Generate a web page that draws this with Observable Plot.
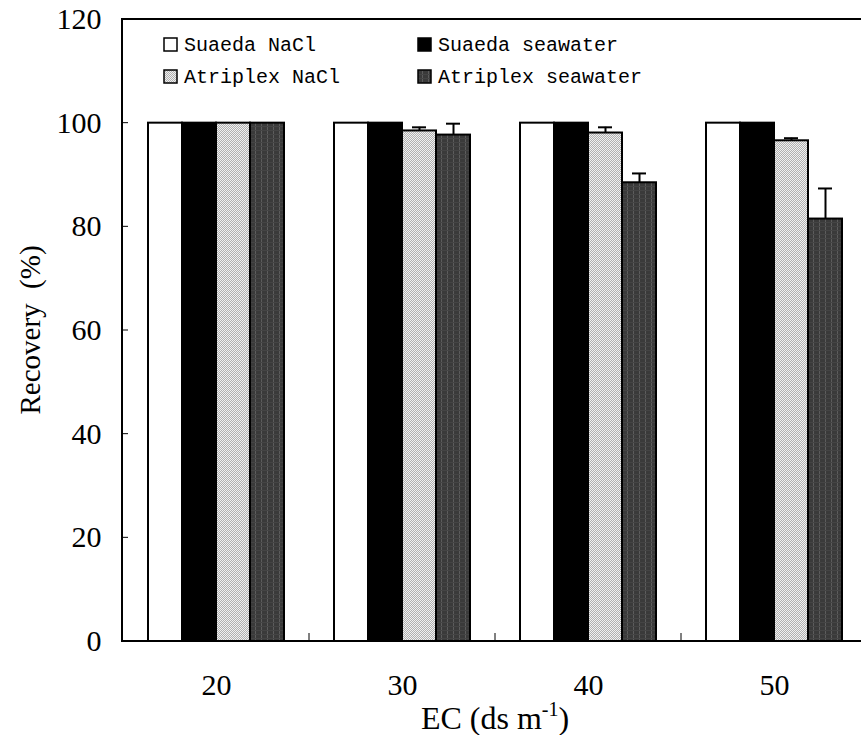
<!DOCTYPE html>
<html><head><meta charset="utf-8">
<script src="https://cdn.jsdelivr.net/npm/d3@7"></script>
<script src="https://cdn.jsdelivr.net/npm/@observablehq/plot@0.6"></script>
<style>
html,body{margin:0;padding:0;background:#fff;overflow:hidden;width:861px;height:735px}
#chart svg{max-width:none !important;display:block}
</style></head><body><div id="chart"></div>
<script>
// ---- data ----
const ecLevels = ["20", "30", "40", "50"];
const seriesNames = ["Suaeda NaCl", "Suaeda seawater", "Atriplex NaCl", "Atriplex seawater"];
const suaedaNaCl = [100, 100, 100, 100];
const suaedaSeawater = [100, 100, 100, 100];
const atriplexNaCl = [100, 98.5, 98.1, 96.6];
const atriplexSeawater = [100, 97.7, 88.5, 81.5];
const suaedaNaClErr = [0, 0, 0, 0];
const suaedaSeawaterErr = [0, 0, 0, 0];
const atriplexNaClErr = [0, 0.7, 1.1, 0.5];
const atriplexSeawaterErr = [0, 2.2, 1.8, 5.9];
const yTicks = [0, 20, 40, 60, 80, 100, 120];
const seriesFills = ["#ffffff", "#000000", "url(#patLight)", "url(#patDark)"];

const seriesValues = [suaedaNaCl, suaedaSeawater, atriplexNaCl, atriplexSeawater];
const seriesErrs = [suaedaNaClErr, suaedaSeawaterErr, atriplexNaClErr, atriplexSeawaterErr];
const rows = [];
ecLevels.forEach((ec, i) => {
  seriesNames.forEach((s, j) => {
    rows.push({ec, series: s, value: seriesValues[j][i], err: seriesErrs[j][i]});
  });
});

const chart = Plot.plot({
  width: 869, height: 735,
  marginLeft: 122, marginRight: 1, marginTop: 19, marginBottom: 94,
  style: {fontFamily: "'Liberation Serif', serif", fontSize: "30px", color: "#000", background: "#fff", maxWidth: "none", overflow: "visible"},
  facet: {data: rows, x: "ec"},
  fx: {domain: ecLevels, padding: 0, label: null, tickSize: 0, tickPadding: 32, axis: "bottom"},
  x: {domain: seriesNames, paddingInner: 0, paddingOuter: 0.68, axis: null},
  y: {domain: [0, 120], ticks: 6, tickSize: 0, tickPadding: 22, label: null},
  color: {domain: seriesNames, range: seriesFills},
  marks: [
    Plot.barY(rows, {x: "series", y: "value", fill: "series", stroke: "#000", strokeWidth: 2}),
    Plot.ruleX(rows, {filter: d => d.err > 0, x: "series", y1: "value", y2: d => d.value + d.err, stroke: "#000", strokeWidth: 2}),
    Plot.tickY(rows, {filter: d => d.err > 0, x: "series", y: d => d.value + d.err, stroke: "#000", strokeWidth: 2, insetLeft: 10, insetRight: 10})
  ]
});
document.getElementById("chart").appendChild(chart);

// ---- decorations through the plot's scales ----
const svg = d3.select(chart);
const defs = svg.insert("defs", ":first-child");
const pl = defs.append("pattern").attr("id", "patLight").attr("patternUnits", "userSpaceOnUse").attr("width", 2).attr("height", 2);
pl.append("rect").attr("width", 2).attr("height", 2).attr("fill", "#f0f0f0");
pl.append("rect").attr("width", 1).attr("height", 1).attr("fill", "#b0b0b0");
pl.append("rect").attr("x", 1).attr("y", 1).attr("width", 1).attr("height", 1).attr("fill", "#b0b0b0");
const pd = defs.append("pattern").attr("id", "patDark").attr("patternUnits", "userSpaceOnUse").attr("width", 6).attr("height", 4);
pd.append("rect").attr("width", 6).attr("height", 4).attr("fill", "#3a3a3a");
pd.append("rect").attr("x", 2).attr("width", 1).attr("height", 4).attr("fill", "#5c5c5c");
pd.append("rect").attr("y", 2).attr("width", 6).attr("height", 1).attr("fill", "#444");

const fxS = chart.scale("fx");
const yS = chart.scale("y");
const xL = fxS.range[0], xR = fxS.range[1];
const yTop = yS.apply(120), yBot = yS.apply(0);
const deco = svg.append("g").attr("stroke", "#000").attr("fill", "none");
deco.append("rect").attr("x", xL).attr("y", yTop).attr("width", xR - xL).attr("height", yBot - yTop).attr("stroke-width", 2);
yTicks.slice(1, -1).forEach(t => {
  deco.append("line").attr("x1", xL).attr("x2", xL + 6).attr("y1", yS.apply(t)).attr("y2", yS.apply(t)).attr("stroke-width", 1);
});
ecLevels.slice(1).forEach(k => {
  const xp = fxS.apply(k);
  deco.append("line").attr("x1", xp).attr("x2", xp).attr("y1", yBot).attr("y2", yBot - 8).attr("stroke-width", 1);
});

// axis titles
svg.append("text").attr("transform", `translate(30,${(yTop + yBot) / 2}) rotate(-90)`)
  .attr("text-anchor", "middle").attr("dominant-baseline", "central")
  .attr("font-size", 29).attr("fill", "#000").attr("xml:space", "preserve").text("Recovery  (%)");
const xt = svg.append("text").attr("x", (xL + xR) / 2).attr("y", 729).attr("text-anchor", "middle")
  .attr("font-size", 32).attr("fill", "#000");
xt.append("tspan").text("EC (ds m");
xt.append("tspan").attr("font-size", 20).attr("dy", -13).text("-1");
xt.append("tspan").attr("dy", 13).text(")");

// legend
const leg = svg.append("g").attr("font-family", "'Liberation Mono', monospace").attr("font-size", 20).attr("text-anchor", "start");
const legPos = [[164, 38], [418, 38], [164, 70], [418, 70]];
seriesNames.forEach((s, i) => {
  const [lx, ly] = legPos[i];
  leg.append("rect").attr("x", lx).attr("y", ly).attr("width", 13).attr("height", 13)
    .attr("fill", seriesFills[i]).attr("stroke", "#000").attr("stroke-width", 1.5);
  leg.append("text").attr("x", lx + 20).attr("y", ly + 7).attr("dominant-baseline", "central")
    .attr("text-anchor", "start").attr("fill", "#000").text(s);
});
</script></body></html>
